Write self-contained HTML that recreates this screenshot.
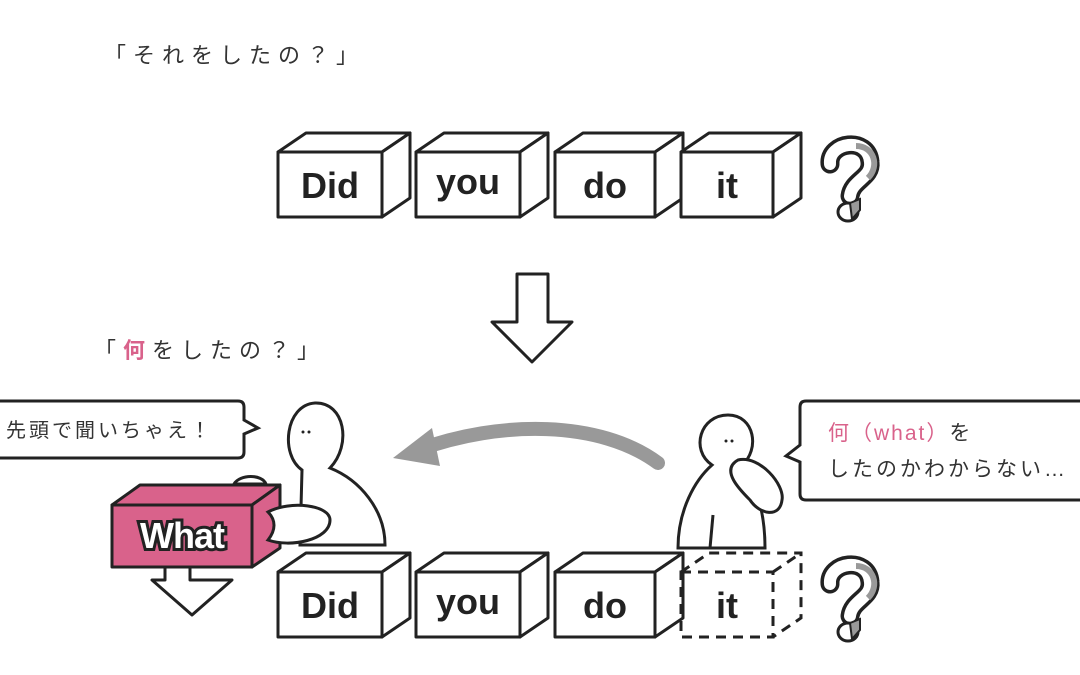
<!DOCTYPE html>
<html><head><meta charset="utf-8"><style>
html,body{margin:0;padding:0;background:#fff;}
svg{display:block}
.jp{font-family:"Liberation Sans","Noto Sans CJK JP",sans-serif;}
.w{font-family:"Liberation Sans",sans-serif;font-weight:bold;}
</style></head><body>
<svg width="1080" height="675" viewBox="0 0 1080 675" xmlns="http://www.w3.org/2000/svg">
<defs>
<g id="q">
  <path d="M8,24 C6,2 46,-4 48,22 C50,38 30,40 28,56" fill="none" stroke="#222" stroke-width="19" stroke-linecap="round"/>
  <path d="M8,24 C6,2 46,-4 48,22 C50,38 30,40 28,56" fill="none" stroke="#fff" stroke-width="12" stroke-linecap="round"/>
  <path d="M34,6 C52,6 58,26 46,38" fill="none" stroke="#999" stroke-width="6"/>
  <ellipse cx="26" cy="72" rx="10" ry="9" fill="#fff" stroke="#222" stroke-width="3"/>
  <path d="M28,63 l10,-4 v11 l-8,9z" fill="#999" stroke="#222" stroke-width="2"/>
</g>
</defs>
<text x="104" y="63" class="jp" font-size="22" letter-spacing="7" fill="#333">「それをしたの？」</text>
<text x="94" y="358" class="jp" font-size="22" letter-spacing="7" fill="#333">「<tspan fill="#d9628b" font-weight="bold">何</tspan>をしたの？」</text>

<g stroke="#222" stroke-width="3" fill="#fff" stroke-linejoin="round">
  <polygon points="278,152 306,133 410,133 382,152"/><polygon points="382,152 410,133 410,198 382,217"/><rect x="278" y="152" width="104" height="65"/>
  <polygon points="416,152 444,133 548,133 520,152"/><polygon points="520,152 548,133 548,198 520,217"/><rect x="416" y="152" width="104" height="65"/>
  <polygon points="555,152 583,133 683,133 655,152"/><polygon points="655,152 683,133 683,198 655,217"/><rect x="555" y="152" width="100" height="65"/>
  <polygon points="681,152 709,133 801,133 773,152"/><polygon points="773,152 801,133 801,198 773,217"/><rect x="681" y="152" width="92" height="65"/>
  <polygon points="278,572 306,553 410,553 382,572"/><polygon points="382,572 410,553 410,618 382,637"/><rect x="278" y="572" width="104" height="65"/>
  <polygon points="416,572 444,553 548,553 520,572"/><polygon points="520,572 548,553 548,618 520,637"/><rect x="416" y="572" width="104" height="65"/>
  <polygon points="555,572 583,553 683,553 655,572"/><polygon points="655,572 683,553 683,618 655,637"/><rect x="555" y="572" width="100" height="65"/>
  <path d="M517,274 H548 V322 H572 L532,362 L492,322 H517 Z"/>
  <path d="M165,565 H190 V580 H232 L192,615 L152,580 H165 Z"/>
</g>
<g stroke="#222" stroke-width="3" fill="none" stroke-dasharray="10,7">
  <rect x="681" y="572" width="92" height="65"/>
  <path d="M681,572 L709,553 H801 V618 L773,637 M773,572 L801,553"/>
</g>

<path d="M658,463 C600,420 500,420 418,450" fill="none" stroke="#999" stroke-width="14" stroke-linecap="round"/>
<polygon points="393,458 432,428 440,466" fill="#999"/>

<g stroke="#222" stroke-width="3" fill="#fff">
  <path d="M302,470 C280,455 285,405 315,403 C345,402 352,445 330,468 C360,480 385,510 385,545 L300,545 Z"/>
  <path d="M234,484 C240,474 262,474 266,484 Z"/>
</g>
<g fill="#222"><circle cx="303" cy="432" r="1.5"/><circle cx="309" cy="432" r="1.5"/></g>
<g stroke="#222" stroke-width="3" fill="#d9628b" stroke-linejoin="round">
  <polygon points="112,505 140,485 280,485 252,505"/>
  <polygon points="252,505 280,485 280,548 252,567"/>
  <rect x="112" y="505" width="140" height="62"/>
</g>
<path d="M268,512 C290,500 330,505 330,520 C330,540 290,548 268,540 C276,530 276,520 268,512Z" fill="#fff" stroke="#222" stroke-width="3"/>
<text x="182" y="548" text-anchor="middle" class="w" font-size="36" fill="#fff" stroke="#222" stroke-width="6" paint-order="stroke" letter-spacing="-1">What</text>

<g stroke="#222" stroke-width="3" fill="#fff">
  <path d="M712,465 C690,450 700,415 728,415 C755,415 760,450 742,465 C760,490 765,520 765,548 L678,548 C678,510 695,480 712,465 Z"/>
  <path d="M738,460 C720,470 740,490 750,500 C760,515 780,518 782,500 C785,485 760,455 738,460Z"/>
  <path d="M713,515 L710,548" fill="none"/>
</g>
<g fill="#222"><circle cx="726" cy="441" r="1.5"/><circle cx="732" cy="441" r="1.5"/></g>

<path d="M-5,401 H238 Q244,401 244,407 V420 L258,428 L244,434 V452 Q244,458 238,458 H-5 Z" fill="#fff" stroke="#222" stroke-width="3"/>
<text x="6" y="437" class="jp" font-size="20" letter-spacing="3" fill="#333">先頭で聞いちゃえ！</text>
<path d="M1090,401 H806 Q800,401 800,407 V445 L786,456 L800,462 V494 Q800,500 806,500 H1090 Z" fill="#fff" stroke="#222" stroke-width="3"/>
<text x="828" y="440" class="jp" font-size="21" letter-spacing="2" fill="#333"><tspan fill="#d9628b">何（what）</tspan>を</text>
<text x="828" y="476" class="jp" font-size="21" letter-spacing="3" fill="#333">したのかわからない…</text>

<g class="w" font-size="36" fill="#222" text-anchor="middle">
  <text x="330" y="198">Did</text><text x="468" y="194">you</text><text x="605" y="198">do</text><text x="727" y="198">it</text>
  <text x="330" y="618">Did</text><text x="468" y="614">you</text><text x="605" y="618">do</text><text x="727" y="618">it</text>
</g>
<use href="#q" x="822" y="140"/>
<use href="#q" x="822" y="560"/>
</svg>
</body></html>
